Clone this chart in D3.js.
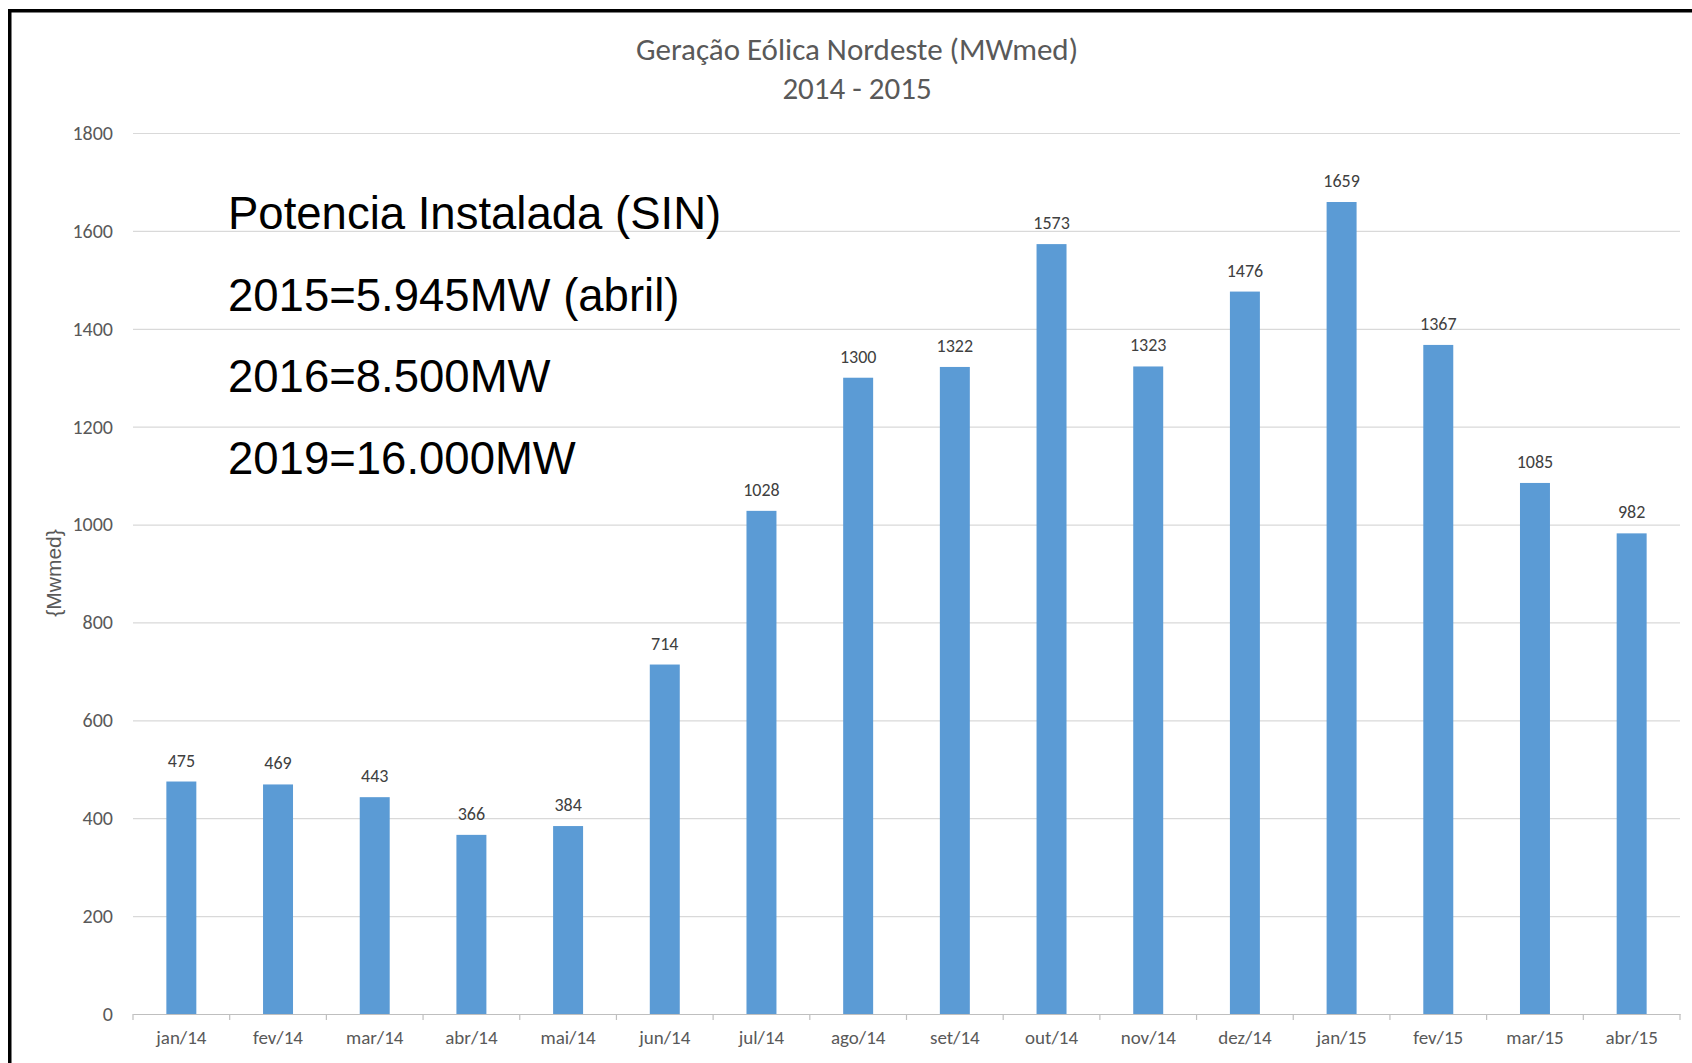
<!DOCTYPE html>
<html>
<head>
<meta charset="utf-8">
<script src="https://cdn.jsdelivr.net/npm/d3@7"></script>
<style>
  body { margin: 0; background: #fff; }
  .tick text { font-family: Calibri, Carlito, "Open Sans", sans-serif; fill: #595959; }
</style>
</head>
<body>
<div id="chart"></div>
<script>
// data
const months = ["jan/14", "fev/14", "mar/14", "abr/14", "mai/14", "jun/14", "jul/14", "ago/14",
                "set/14", "out/14", "nov/14", "dez/14", "jan/15", "fev/15", "mar/15", "abr/15"];
const generation = [475, 469, 443, 366, 384, 714, 1028, 1300, 1322, 1573, 1323, 1476, 1659, 1367, 1085, 982];
const yTicks = [0, 200, 400, 600, 800, 1000, 1200, 1400, 1600, 1800];
const titleLines = ["Geração Eólica Nordeste (MWmed)", "2014 - 2015"];
const yLabel = "{Mwmed}";
const noteLines = ["Potencia Instalada (SIN)", "2015=5.945MW (abril)", "2016=8.500MW", "2019=16.000MW"];

const width = 1692, height = 1063;
const plotLeft = 133, plotRight = 1680, plotTop = 133, plotBottom = 1014;

var svg = d3.select("#chart")
    .append("svg")
    .attr("width", width)
    .attr("height", height);

// frame (only top and left edges are visible in the picture)
svg.append("path")
    .attr("d", "M9.75," + height + "V10.75H" + width)
    .attr("fill", "none")
    .attr("stroke", "#000")
    .attr("stroke-width", 3.5);

var x = d3.scaleBand()
    .domain(months)
    .range([plotLeft, plotRight])
    .padding(0);

var y = d3.scaleLinear()
    .domain([0, 1800])
    .range([plotBottom, plotTop]);

// gridlines + y labels
var yAxis = svg.append("g")
    .attr("transform", "translate(" + plotLeft + ",0)")
    .call(d3.axisLeft(y).tickValues(yTicks).tickFormat(d3.format("d"))
      .tickSize(-(plotRight - plotLeft)).tickPadding(20));
yAxis.select(".domain").remove();
yAxis.selectAll(".tick line").attr("stroke", "#d9d9d9").attr("stroke-width", 1.2);
yAxis.selectAll(".tick text").style("font-size", "20px");

// x axis with ticks between categories
var xAxis = svg.append("g")
    .attr("transform", "translate(0," + plotBottom + ")")
    .call(d3.axisBottom(x).tickSize(0).tickPadding(17));
xAxis.select(".domain").attr("stroke", "#bfbfbf").attr("stroke-width", 1.2);
xAxis.selectAll(".tick text").style("font-size", "19px");

svg.append("g")
    .selectAll("line")
    .data(months.concat(["end"]))
    .enter().append("line")
    .attr("x1", function(d, i) { return plotLeft + i * x.step(); })
    .attr("x2", function(d, i) { return plotLeft + i * x.step(); })
    .attr("y1", plotBottom)
    .attr("y2", plotBottom + 6)
    .attr("stroke", "#bfbfbf")
    .attr("stroke-width", 1.2);

// bars
var barW = x.bandwidth() * 0.31;
svg.append("g")
    .selectAll("rect")
    .data(generation)
    .enter().append("rect")
    .attr("x", function(d, i) { return x(months[i]) + x.bandwidth() / 2 - barW / 2; })
    .attr("y", function(d) { return y(d); })
    .attr("width", barW)
    .attr("height", function(d) { return y(0) - y(d); })
    .style("fill", "#5b9bd5");

// value labels
svg.append("g")
    .selectAll("text")
    .data(generation)
    .enter().append("text")
    .attr("x", function(d, i) { return x(months[i]) + x.bandwidth() / 2; })
    .attr("y", function(d) { return y(d) - 15; })
    .attr("text-anchor", "middle")
    .style("font-family", "Calibri, Carlito, 'Open Sans', sans-serif")
    .style("font-size", "18px")
    .style("fill", "#404040")
    .text(function(d) { return d; });

// title
svg.append("g")
    .selectAll("text")
    .data(titleLines)
    .enter().append("text")
    .attr("x", 857)
    .attr("y", function(d, i) { return 60 + i * 39; })
    .attr("text-anchor", "middle")
    .style("font-family", "Calibri, Carlito, 'Open Sans', sans-serif")
    .style("font-size", "31px")
    .style("fill", "#595959")
    .text(function(d) { return d; });

// y axis title
svg.append("text")
    .attr("transform", "translate(61,573) rotate(-90)")
    .attr("text-anchor", "middle")
    .style("font-family", "'Liberation Sans', Arial, sans-serif")
    .style("font-size", "21px")
    .style("fill", "#595959")
    .text(yLabel);

// installed capacity note
svg.append("g")
    .selectAll("text")
    .data(noteLines)
    .enter().append("text")
    .attr("x", 228)
    .attr("y", function(d, i) { return 229 + i * 81.5; })
    .style("font-family", "'Liberation Sans', Arial, sans-serif")
    .style("font-size", "45.5px")
    .style("fill", "#000")
    .text(function(d) { return d; });
</script>
</body>
</html>
